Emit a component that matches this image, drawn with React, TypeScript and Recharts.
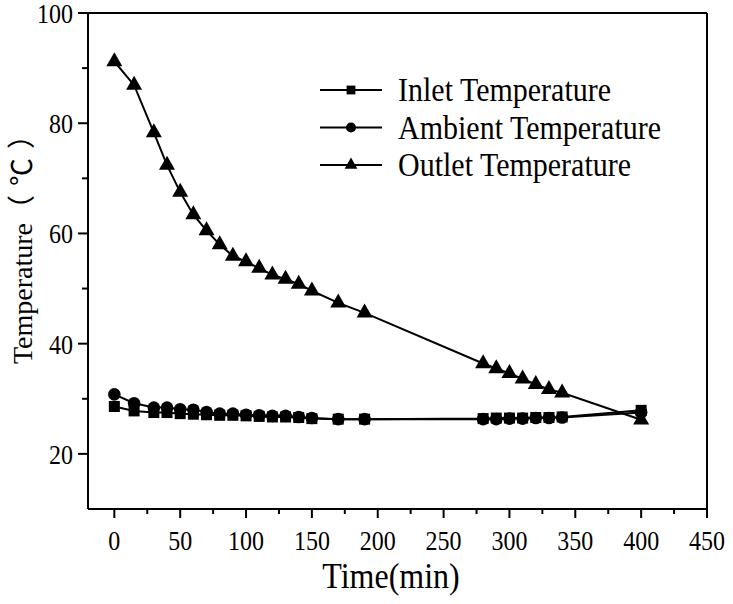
import React from "react";
import { LineChart, Line, XAxis, YAxis, ReferenceLine } from "recharts";

const times = [0, 15, 30, 40, 50, 60, 70, 80, 90, 100, 110, 120, 130, 140, 150, 170, 190, 280, 290, 300, 310, 320, 330, 340, 400];
const inlet = [28.6, 27.8, 27.5, 27.5, 27.3, 27.2, 27.1, 27.0, 27.0, 26.9, 26.8, 26.7, 26.7, 26.6, 26.4, 26.3, 26.3, 26.4, 26.5, 26.5, 26.5, 26.6, 26.6, 26.7, 27.9];
const ambient = [30.8, 29.2, 28.4, 28.4, 28.1, 28.0, 27.6, 27.3, 27.3, 27.1, 27.0, 26.9, 26.9, 26.7, 26.5, 26.3, 26.3, 26.3, 26.3, 26.4, 26.4, 26.5, 26.5, 26.6, 27.5];
const outlet = [91.2, 86.9, 78.3, 72.4, 67.5, 63.4, 60.5, 58.0, 55.9, 54.9, 53.7, 52.5, 51.7, 50.8, 49.6, 47.4, 45.6, 36.4, 35.5, 34.6, 33.6, 32.6, 31.7, 31.1, 26.2];

const xTicks = [0, 25, 50, 75, 100, 125, 150, 175, 200, 225, 250, 275, 300, 325, 350, 375, 400, 425, 450];
const yTicks = [20, 30, 40, 50, 60, 70, 80, 90, 100];

const series = [
  { key: "inlet", name: "Inlet Temperature", shape: "square" },
  { key: "ambient", name: "Ambient Temperature", shape: "circle" },
  { key: "outlet", name: "Outlet Temperature", shape: "triangle" },
];

const data = times.map((t, i) => ({ t, inlet: inlet[i], ambient: ambient[i], outlet: outlet[i] }));

const FONT = '"Liberation Serif", "Times New Roman", serif';
const CJK = '"Noto Sans CJK SC", sans-serif';
// the source figure's lettering is a bit taller than plain Times
const STRETCH = 1.12;

function Marker({ cx, cy, shape, size = 1 }: any) {
  if (cx == null || cy == null) return null;
  if (shape === "square") {
    const s = 11 * size;
    return <rect x={cx - s / 2} y={cy - s / 2} width={s} height={s} fill="#000" />;
  }
  if (shape === "circle") {
    return <circle cx={cx} cy={cy} r={6.3 * size} fill="#000" />;
  }
  const w = 16 * size;
  const h = 14 * size;
  return (
    <polygon
      points={`${cx},${cy - (h * 2) / 3} ${cx - w / 2},${cy + h / 3} ${cx + w / 2},${cy + h / 3}`}
      fill="#000"
    />
  );
}

function makeDot(shape: string) {
  return (props: any) => <Marker key={`${shape}-${props.index}`} cx={props.cx} cy={props.cy} shape={shape} />;
}

function Txt({ x, y, anchor = "start", size, children }: any) {
  return (
    <text
      transform={`translate(${x},${y}) scale(1,${STRETCH})`}
      textAnchor={anchor}
      fontFamily={FONT}
      fontSize={size}
      fill="#000"
    >
      {children}
    </text>
  );
}

function XTick({ x, y, payload }: any) {
  const major = payload.value % 50 === 0;
  return (
    <g>
      <line x1={x} x2={x} y1={y} y2={y + (major ? 9 : 5)} stroke="#000" strokeWidth={2} />
      {major && (
        <Txt x={x} y={y + 41} anchor="middle" size={24}>
          {payload.value}
        </Txt>
      )}
    </g>
  );
}

function YTick({ x, y, payload }: any) {
  const major = payload.value % 20 === 0;
  return (
    <g>
      <line x1={x} x2={x - (major ? 10 : 6)} y1={y} y2={y} stroke="#000" strokeWidth={2} />
      {major && (
        <Txt x={x - 15} y={y + 10} anchor="end" size={24}>
          {payload.value}
        </Txt>
      )}
    </g>
  );
}

function YTitle() {
  return (
    <text
      transform="translate(32,238) rotate(-90)"
      textAnchor="middle"
      fontFamily={FONT}
      fontSize={28}
      fill="#000"
    >
      Temperature
      <tspan fontFamily={CJK} fontSize={28} letterSpacing={9}>（℃）</tspan>
    </text>
  );
}

function XTitle() {
  return (
    <Txt x={391} y={588} anchor="middle" size={32}>
      Time(min)
    </Txt>
  );
}

function LegendBox() {
  return (
    <svg width={380} height={120} style={{ position: "absolute", left: 315, top: 70 }}>
      {series.map((s, i) => {
        const y = 20 + i * 37.5;
        return (
          <g key={s.key}>
            <line x1={5} x2={67} y1={y} y2={y} stroke="#000" strokeWidth={2} />
            <Marker cx={36} cy={y} shape={s.shape} size={0.8} />
            <Txt x={83} y={y + 11} size={30}>
              {s.name}
            </Txt>
          </g>
        );
      })}
    </svg>
  );
}

export default function App() {
  return (
    <div style={{ position: "absolute", left: 0, top: 0, width: 733, height: 604, background: "#fff" }}>
      <LineChart width={733} height={604} data={data} margin={{ top: 13, right: 26, bottom: 0, left: 0 }}>
        <XAxis
          dataKey="t"
          type="number"
          domain={[-20, 450]}
          ticks={xTicks}
          interval={0}
          height={95}
          tickSize={0}
          tickMargin={0}
          tickLine={false}
          tick={<XTick />}
          axisLine={{ stroke: "#000", strokeWidth: 2 }}
          label={<XTitle />}
          allowDataOverflow
        />
        <YAxis
          type="number"
          domain={[10, 100]}
          ticks={yTicks}
          interval={0}
          width={88}
          tickSize={0}
          tickMargin={0}
          tickLine={false}
          tick={<YTick />}
          axisLine={{ stroke: "#000", strokeWidth: 2 }}
          label={<YTitle />}
          allowDataOverflow
        />
        <ReferenceLine y={100} stroke="#000" strokeWidth={2} />
        <ReferenceLine x={450} stroke="#000" strokeWidth={2} />
        {series.map((s) => (
          <Line
            key={s.key}
            dataKey={s.key}
            name={s.name}
            type="linear"
            stroke="#000"
            strokeWidth={2}
            dot={makeDot(s.shape)}
            activeDot={false}
            isAnimationActive={false}
          />
        ))}
      </LineChart>
      <LegendBox />
    </div>
  );
}
